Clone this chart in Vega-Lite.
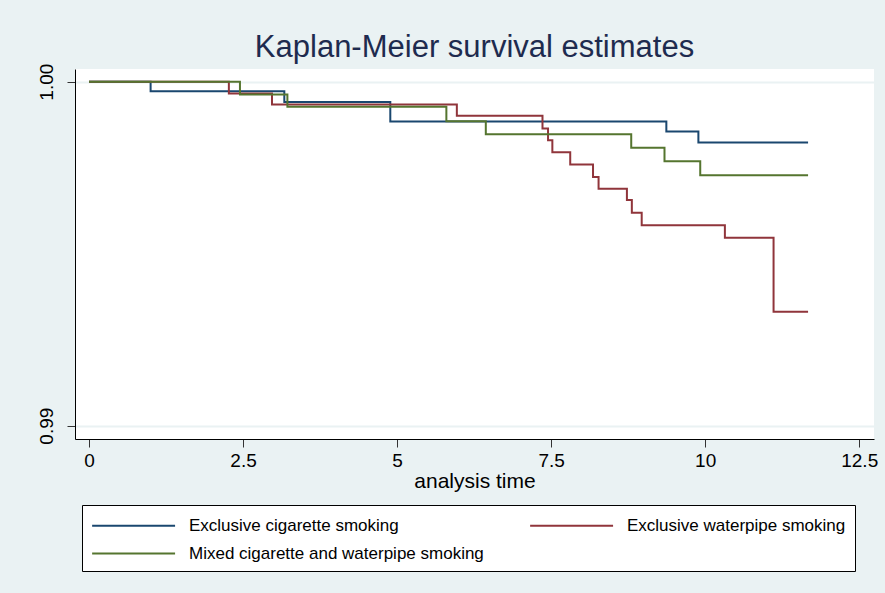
{
  "$schema": "https://vega.github.io/schema/vega-lite/v6.json",
  "autosize": {"type": "none"},
  "width": 799,
  "height": 370,
  "padding": {"left": 75, "top": 69, "right": 11, "bottom": 154},
  "background": "#eaf2f3",
  "config": {
    "font": "Liberation Sans",
    "view": {"stroke": null, "fill": "white"}
  },
  "title": {
    "text": "Kaplan-Meier survival estimates",
    "anchor": "middle",
    "fontSize": 31,
    "fontWeight": "normal",
    "color": "#1e2b4f",
    "offset": -1
  },
  "data": {
    "values": [
      {"group": "Exclusive cigarette smoking", "t": 0, "s": 1},
      {"group": "Exclusive cigarette smoking", "t": 1.0, "s": 0.99972},
      {"group": "Exclusive cigarette smoking", "t": 3.17, "s": 0.99941},
      {"group": "Exclusive cigarette smoking", "t": 4.89, "s": 0.99884},
      {"group": "Exclusive cigarette smoking", "t": 9.37, "s": 0.99855},
      {"group": "Exclusive cigarette smoking", "t": 9.89, "s": 0.99823},
      {"group": "Exclusive cigarette smoking", "t": 11.67, "s": 0.99823},
      {"group": "Exclusive waterpipe smoking", "t": 0, "s": 1},
      {"group": "Exclusive waterpipe smoking", "t": 2.27, "s": 0.99966},
      {"group": "Exclusive waterpipe smoking", "t": 2.97, "s": 0.99934},
      {"group": "Exclusive waterpipe smoking", "t": 5.97, "s": 0.99901},
      {"group": "Exclusive waterpipe smoking", "t": 7.36, "s": 0.99864},
      {"group": "Exclusive waterpipe smoking", "t": 7.45, "s": 0.9983},
      {"group": "Exclusive waterpipe smoking", "t": 7.52, "s": 0.99795},
      {"group": "Exclusive waterpipe smoking", "t": 7.81, "s": 0.99759},
      {"group": "Exclusive waterpipe smoking", "t": 8.18, "s": 0.99723},
      {"group": "Exclusive waterpipe smoking", "t": 8.27, "s": 0.99689},
      {"group": "Exclusive waterpipe smoking", "t": 8.73, "s": 0.99656},
      {"group": "Exclusive waterpipe smoking", "t": 8.81, "s": 0.99619},
      {"group": "Exclusive waterpipe smoking", "t": 8.97, "s": 0.99583},
      {"group": "Exclusive waterpipe smoking", "t": 10.32, "s": 0.99546},
      {"group": "Exclusive waterpipe smoking", "t": 11.11, "s": 0.99331},
      {"group": "Exclusive waterpipe smoking", "t": 11.67, "s": 0.99331},
      {"group": "Mixed cigarette and waterpipe smoking", "t": 0, "s": 1},
      {"group": "Mixed cigarette and waterpipe smoking", "t": 2.45, "s": 0.99963},
      {"group": "Mixed cigarette and waterpipe smoking", "t": 3.22, "s": 0.99927},
      {"group": "Mixed cigarette and waterpipe smoking", "t": 5.8, "s": 0.99885},
      {"group": "Mixed cigarette and waterpipe smoking", "t": 6.44, "s": 0.99847},
      {"group": "Mixed cigarette and waterpipe smoking", "t": 8.8, "s": 0.99808},
      {"group": "Mixed cigarette and waterpipe smoking", "t": 9.34, "s": 0.99769},
      {"group": "Mixed cigarette and waterpipe smoking", "t": 9.92, "s": 0.99728},
      {"group": "Mixed cigarette and waterpipe smoking", "t": 11.67, "s": 0.99728}
    ]
  },
  "mark": {"type": "line", "interpolate": "step-after", "strokeWidth": 2},
  "encoding": {
    "x": {
      "field": "t",
      "type": "quantitative",
      "scale": {"domain": [-0.227, 12.74], "nice": false, "zero": false},
      "axis": {
        "title": "analysis time",
        "values": [0, 2.5, 5, 7.5, 10, 12.5],
        "format": ".1~f",
        "grid": false,
        "domainColor": "#000000",
        "tickColor": "#333333",
        "tickSize": 8,
        "labelFontSize": 19,
        "labelColor": "#000000",
        "labelPadding": 4,
        "titleFontSize": 21,
        "titleFontWeight": "normal",
        "titleColor": "#000000",
        "titlePadding": 0
      }
    },
    "y": {
      "field": "s",
      "type": "quantitative",
      "scale": {"domain": [0.989613, 1.000369], "nice": false, "zero": false},
      "axis": {
        "title": null,
        "values": [0.99, 1.0],
        "format": ".2f",
        "grid": true,
        "gridColor": "#eaf2f3",
        "gridWidth": 2,
        "domainColor": "#000000",
        "tickColor": "#333333",
        "tickSize": 8,
        "labelAngle": -90,
        "labelFontSize": 19,
        "labelColor": "#000000",
        "labelPadding": 11
      }
    },
    "color": {
      "field": "group",
      "type": "nominal",
      "scale": {
        "domain": ["Exclusive cigarette smoking", "Exclusive waterpipe smoking", "Mixed cigarette and waterpipe smoking"],
        "range": ["#1a476f", "#90353b", "#55752f"]
      },
      "legend": {
        "title": null,
        "orient": "none",
        "legendX": 7,
        "legendY": 436,
        "columns": 2,
        "direction": "horizontal",
        "fillColor": "white",
        "strokeColor": "#000000",
        "padding": 9,
        "symbolType": "M-1,0L7,0",
        "symbolSize": 430,
        "symbolStrokeWidth": 2,
        "labelFontSize": 17,
        "labelColor": "#000000",
        "labelOffset": 75,
        "columnPadding": 42,
        "rowPadding": 8,
        "labelLimit": 400,
        "labelExpr": "datum.label == 'Exclusive waterpipe smoking' ? datum.label + '\u00a0\u00a0' : datum.label"
      }
    }
  }
}
